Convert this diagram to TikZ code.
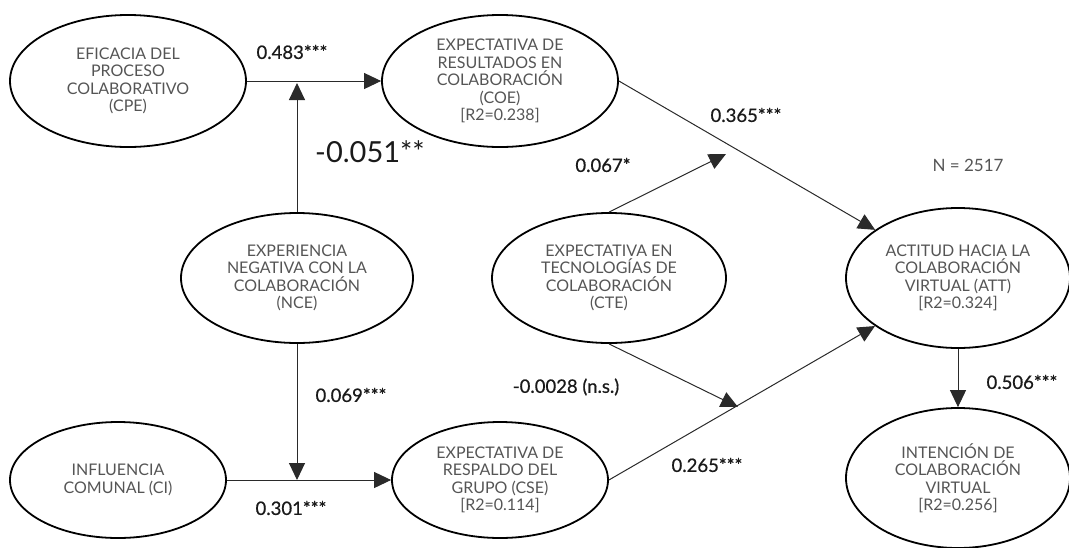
\documentclass[tikz,border=0pt]{standalone}
\usepackage{fontspec}
\setmainfont{Lato}
\newfontfamily\lblfont[FakeBold=0.7]{Lato}
\usetikzlibrary{shapes.geometric,arrows.meta}
\definecolor{txtgray}{HTML}{555555}
\definecolor{lblk}{HTML}{1A1A1A}
\definecolor{linec}{HTML}{2A2A2A}
\begin{document}
\begin{tikzpicture}[x=1pt,y=-1pt,
  var/.style={draw=black,line width=1.8pt,ellipse,inner sep=0pt,align=center,text=txtgray,font=\fontsize{16}{17.5}\selectfont},
  conn/.style={draw=linec,line width=1pt,-{Triangle[length=17pt,width=16pt]}},
  lbl/.style={text=lblk,font=\lblfont\fontsize{18.5}{20}\selectfont,inner sep=0pt},
]
\useasboundingbox (0,0) rectangle (1069,547);
% variables
\node[var,minimum width=236pt,minimum height=132pt] (cpe) at (128,81) {EFICACIA DEL\\PROCESO\\COLABORATIVO\\(CPE)};
\node[var,minimum width=236pt,minimum height=132pt] (coe) at (500,81) {EXPECTATIVA DE\\RESULTADOS EN\\COLABORACIÓN\\(COE)\\{[R2=0.238]}};
\node[var,minimum width=232pt,minimum height=130pt] (nce) at (297,278) {EXPERIENCIA\\NEGATIVA CON LA\\COLABORACIÓN\\(NCE)};
\node[var,minimum width=234pt,minimum height=130pt] (cte) at (609,278) {EXPECTATIVA EN\\TECNOLOGÍAS DE\\COLABORACIÓN\\(CTE)};
\node[var,minimum width=216pt,minimum height=116pt] (ci) at (118,480) {INFLUENCIA\\COMUNAL (CI)};
\node[var,minimum width=216pt,minimum height=116pt] (cse) at (500,480) {EXPECTATIVA DE\\RESPALDO DEL\\GRUPO (CSE)\\{[R2=0.114]}};
\node[var,minimum width=224pt,minimum height=140pt] (att) at (958,278) {ACTITUD HACIA LA\\COLABORACIÓN\\VIRTUAL (ATT)\\{[R2=0.324]}};
\node[var,minimum width=224pt,minimum height=140pt] (int) at (958,478) {INTENCIÓN DE\\COLABORACIÓN\\VIRTUAL\\{[R2=0.256]}};
% moderator targets
\coordinate (m1) at (297,83);
\coordinate (m2) at (297,480);
\coordinate (m3) at (726,154);
\coordinate (m4) at (738,407);
% connectors
\draw[conn] (cpe.east) -- (coe.west);
\draw[conn] (nce.north) -- (m1);
\draw[conn] (nce.south) -- (m2);
\draw[conn] (ci.east) -- (cse.west);
\draw[conn] (coe.east) -- (att);
\draw[conn] (cte.north) -- (m3);
\draw[conn] (cte.south) -- (m4);
\draw[conn] (cse.east) -- (att);
\draw[conn] (att.south) -- (int.north);
% labels
\node[lbl] (l1) at (292,52) {0.483***};
\node[lbl,font=\fontsize{29}{32}\selectfont] (l2) at (370,152) {-0.051**};
\node[lbl] (l3) at (351,395) {0.069***};
\node[lbl] (l4) at (291,508) {0.301***};
\node[lbl] (l5) at (746,115) {0.365***};
\node[lbl] (l6) at (603,165) {0.067*};
\node[var,draw=none,font=\fontsize{17}{20}\selectfont] (nn) at (968,165) {N = 2517};
\node[lbl] (l7) at (566,387) {-0.0028 (n.s.)};
\node[lbl] (l8) at (707,465) {0.265***};
\node[lbl] (l9) at (1022,382) {0.506***};
\end{tikzpicture}
\end{document}
